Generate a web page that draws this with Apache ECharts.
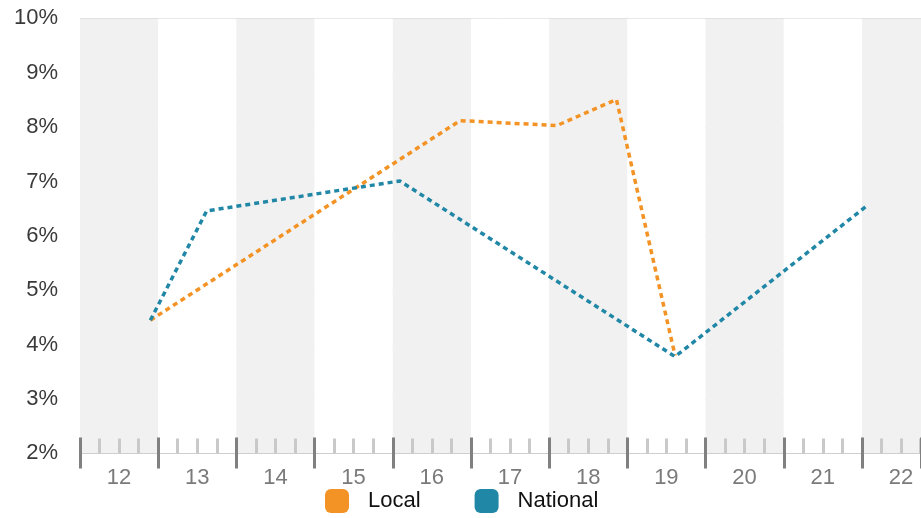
<!DOCTYPE html>
<html>
<head>
<meta charset="utf-8">
<script src="https://cdn.jsdelivr.net/npm/echarts@6/dist/echarts.min.js"></script>
<style>
html,body{margin:0;padding:0;background:#fff;}
#chart{width:921px;height:518px;}
</style>
</head>
<body>
<div id="chart"></div>
<script>
// Data (x = year offset, e.g. 12.9 ~ late 2012; y = percent)
const seriesNames = ['Local', 'National'];
const localX = [12.9, 16.86, 18.10, 18.86, 19.61];
const localY = [4.45, 8.12, 8.03, 8.51, 3.80];
const nationalX = [12.9, 13.62, 16.09, 19.61, 22.06];
const nationalY = [4.45, 6.46, 7.01, 3.78, 6.55];
const xTickLabels = ['12', '13', '14', '15', '16', '17', '18', '19', '20', '21', '22'];
const yTickLabels = ['2%', '3%', '4%', '5%', '6%', '7%', '8%', '9%', '10%'];

const X_MIN = 12, X_MAX = 22.755;
const Y_MIN = 2, Y_MAX = 10;
const FONT = '"Liberation Sans", Arial, Helvetica, sans-serif';

function pairs(xs, ys) { return xs.map((x, i) => [x, ys[i]]); }

const chart = echarts.init(document.getElementById('chart'), null, {renderer: 'canvas'});
chart.setOption({
  animation: false,
  backgroundColor: '#ffffff',
  textStyle: {fontFamily: FONT},
  grid: {left: 80, right: 0, top: 18.4, bottom: 64.6, containLabel: false, outerBoundsMode: 'none'},
  legend: {
    data: seriesNames,
    left: 320, top: 484,
    icon: 'roundRect',
    itemWidth: 24, itemHeight: 24,
    itemGap: 54,
    textStyle: {fontFamily: FONT, fontSize: 22, color: '#111', padding: [0, 0, 0, 14]}
  },
  xAxis: [
    {
      // light minor ticks (every quarter)
      type: 'value', position: 'bottom', min: X_MIN, max: X_MAX, interval: 0.25,
      axisLine: {show: false},
      axisTick: {show: true, inside: true, length: 15, lineStyle: {color: '#c9c9c9', width: 3}},
      splitLine: {show: false},
      splitArea: {show: false},
      axisLabel: {show: false}
    },
    {
      type: 'value', position: 'bottom', min: X_MIN, max: X_MAX, interval: 1,
      axisLine: {show: true, lineStyle: {color: '#cfcfcf', width: 1}},
      axisTick: {show: true, inside: true, length: 16, lineStyle: {color: '#808080', width: 3}},
      splitLine: {show: false},
      splitArea: {show: true, areaStyle: {color: ['#f1f1f1', '#ffffff']}},
      axisLabel: {
        show: true, margin: 14, fontSize: 22, color: '#7a7a7a', fontFamily: FONT,
        align: 'center', padding: [0, 0, 0, 78],
        formatter: function (v) { const i = Math.round(v - X_MIN); return xTickLabels[i] !== undefined ? xTickLabels[i] : ''; }
      }
    },
    {
      type: 'value', position: 'bottom', min: X_MIN, max: X_MAX, interval: 1,
      axisLine: {show: false},
      axisTick: {show: true, inside: false, length: 15, lineStyle: {color: '#808080', width: 3}},
      splitLine: {show: false},
      axisLabel: {show: false}
    }
  ],
  yAxis: {
    type: 'value', min: Y_MIN, max: Y_MAX, interval: 1,
    axisLine: {show: false},
    axisTick: {show: false},
    splitLine: {show: true, lineStyle: {color: '#d0d0d0', width: 1}},
    axisLabel: {
      margin: 22, fontSize: 22, color: '#3a3a3a', fontFamily: FONT,
      formatter: function (v) { const i = Math.round(v - Y_MIN); return yTickLabels[i] !== undefined ? yTickLabels[i] : ''; }
    }
  },
  series: [
    {
      name: 'Local', type: 'line', xAxisIndex: 1,
      data: pairs(localX, localY),
      showSymbol: false, symbol: 'none',
      itemStyle: {color: '#f39325'},
      lineStyle: {color: '#f39325', width: 3.5, type: [5, 4]}
    },
    {
      name: 'National', type: 'line', xAxisIndex: 1,
      data: pairs(nationalX, nationalY),
      showSymbol: false, symbol: 'none',
      itemStyle: {color: '#2187a6'},
      lineStyle: {color: '#2187a6', width: 3.5, type: [5, 4]}
    }
  ]
});
</script>
</body>
</html>
